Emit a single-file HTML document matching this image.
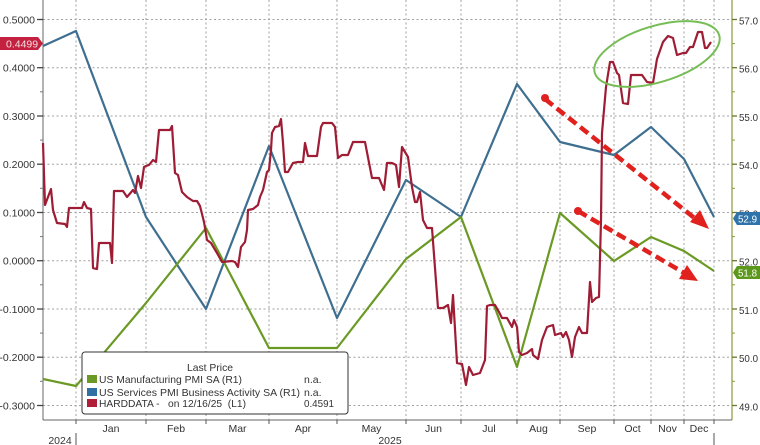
<!DOCTYPE html>
<html>
<head>
<meta charset="utf-8">
<style>
html,body{margin:0;padding:0;background:#fff;}
svg{display:block;}
text{font-family:"Liberation Sans",Arial,sans-serif;}
</style>
</head>
<body>
<svg width="760" height="445" viewBox="0 0 760 445" xmlns="http://www.w3.org/2000/svg">
<rect width="760" height="445" fill="#fff"/>
<!-- horizontal gridlines -->
<g stroke="#a0a0a0" stroke-width="1" stroke-dasharray="2 2.5" fill="none">
<line x1="43" y1="19.5" x2="732" y2="19.5"/>
<line x1="43" y1="67.7" x2="732" y2="67.7"/>
<line x1="43" y1="116" x2="732" y2="116"/>
<line x1="43" y1="164.2" x2="732" y2="164.2"/>
<line x1="43" y1="212.5" x2="732" y2="212.5"/>
<line x1="43" y1="260.7" x2="732" y2="260.7"/>
<line x1="43" y1="309" x2="732" y2="309"/>
<line x1="43" y1="357.2" x2="732" y2="357.2"/>
<line x1="43" y1="405.5" x2="732" y2="405.5"/>
</g>
<!-- vertical gridlines -->
<g stroke="#a0a0a0" stroke-width="1" stroke-dasharray="2 2.5" fill="none">
<line x1="76" y1="0" x2="76" y2="420"/>
<line x1="146" y1="0" x2="146" y2="420"/>
<line x1="206" y1="0" x2="206" y2="420"/>
<line x1="269" y1="0" x2="269" y2="420"/>
<line x1="337" y1="0" x2="337" y2="420"/>
<line x1="406" y1="0" x2="406" y2="420"/>
<line x1="461" y1="0" x2="461" y2="420"/>
<line x1="517" y1="0" x2="517" y2="420"/>
<line x1="560" y1="0" x2="560" y2="420"/>
<line x1="614" y1="0" x2="614" y2="420"/>
<line x1="651" y1="0" x2="651" y2="420"/>
<line x1="684" y1="0" x2="684" y2="420"/>
<line x1="714" y1="0" x2="714" y2="420"/>
</g>
<!-- axes -->
<line x1="43" y1="0" x2="43" y2="420" stroke="#666" stroke-width="1"/>
<line x1="732" y1="0" x2="732" y2="420" stroke="#8c9a3c" stroke-width="1.2"/>
<line x1="43" y1="420" x2="732" y2="420" stroke="#666" stroke-width="1"/>
<!-- left ticks -->
<g stroke="#444" stroke-width="1.3">
<line x1="37" y1="19.5" x2="43" y2="19.5"/>
<line x1="37" y1="67.7" x2="43" y2="67.7"/>
<line x1="37" y1="116" x2="43" y2="116"/>
<line x1="37" y1="164.2" x2="43" y2="164.2"/>
<line x1="37" y1="212.5" x2="43" y2="212.5"/>
<line x1="37" y1="260.7" x2="43" y2="260.7"/>
<line x1="37" y1="309" x2="43" y2="309"/>
<line x1="37" y1="357.2" x2="43" y2="357.2"/>
<line x1="37" y1="405.5" x2="43" y2="405.5"/>
</g>
<g stroke="#777" stroke-width="1">
<line x1="40" y1="43.6" x2="43" y2="43.6"/>
<line x1="40" y1="91.8" x2="43" y2="91.8"/>
<line x1="40" y1="140.1" x2="43" y2="140.1"/>
<line x1="40" y1="188.3" x2="43" y2="188.3"/>
<line x1="40" y1="236.6" x2="43" y2="236.6"/>
<line x1="40" y1="284.8" x2="43" y2="284.8"/>
<line x1="40" y1="333.1" x2="43" y2="333.1"/>
<line x1="40" y1="381.3" x2="43" y2="381.3"/>
</g>
<!-- right ticks -->
<g stroke="#667a2a" stroke-width="1.3">
<line x1="732" y1="19.5" x2="737" y2="19.5"/>
<line x1="732" y1="67.7" x2="737" y2="67.7"/>
<line x1="732" y1="116" x2="737" y2="116"/>
<line x1="732" y1="164.2" x2="737" y2="164.2"/>
<line x1="732" y1="212.5" x2="737" y2="212.5"/>
<line x1="732" y1="260.7" x2="737" y2="260.7"/>
<line x1="732" y1="309" x2="737" y2="309"/>
<line x1="732" y1="357.2" x2="737" y2="357.2"/>
<line x1="732" y1="405.5" x2="737" y2="405.5"/>
</g>
<g stroke="#8c9a3c" stroke-width="1">
<line x1="732" y1="43.6" x2="735" y2="43.6"/>
<line x1="732" y1="91.8" x2="735" y2="91.8"/>
<line x1="732" y1="140.1" x2="735" y2="140.1"/>
<line x1="732" y1="188.3" x2="735" y2="188.3"/>
<line x1="732" y1="236.6" x2="735" y2="236.6"/>
<line x1="732" y1="284.8" x2="735" y2="284.8"/>
<line x1="732" y1="333.1" x2="735" y2="333.1"/>
<line x1="732" y1="381.3" x2="735" y2="381.3"/>
</g>
<!-- bottom ticks -->
<g stroke="#555" stroke-width="1">
<line x1="76" y1="420" x2="76" y2="424"/>
<line x1="146" y1="420" x2="146" y2="424"/>
<line x1="206" y1="420" x2="206" y2="424"/>
<line x1="269" y1="420" x2="269" y2="424"/>
<line x1="337" y1="420" x2="337" y2="424"/>
<line x1="406" y1="420" x2="406" y2="424"/>
<line x1="461" y1="420" x2="461" y2="424"/>
<line x1="517" y1="420" x2="517" y2="424"/>
<line x1="560" y1="420" x2="560" y2="424"/>
<line x1="614" y1="420" x2="614" y2="424"/>
<line x1="651" y1="420" x2="651" y2="424"/>
<line x1="684" y1="420" x2="684" y2="424"/>
<line x1="714" y1="420" x2="714" y2="424"/>
<line x1="76" y1="433" x2="76" y2="445"/>
<line x1="714" y1="433" x2="714" y2="445"/>
</g>
<!-- left labels -->
<g font-size="10.5" fill="#333" text-anchor="end">
<text x="35" y="23.5">0.5000</text>
<text x="35" y="71.7">0.4000</text>
<text x="35" y="120">0.3000</text>
<text x="35" y="168.2">0.2000</text>
<text x="35" y="216.5">0.1000</text>
<text x="35" y="264.7">0.0000</text>
<text x="35" y="313">-0.1000</text>
<text x="35" y="361.2">-0.2000</text>
<text x="35" y="409.5">-0.3000</text>
</g>
<!-- right labels -->
<g font-size="10.5" fill="#333">
<text x="739" y="24.5" textLength="19" lengthAdjust="spacingAndGlyphs">57.0</text>
<text x="739" y="72.7" textLength="19" lengthAdjust="spacingAndGlyphs">56.0</text>
<text x="739" y="121" textLength="19" lengthAdjust="spacingAndGlyphs">55.0</text>
<text x="739" y="169.2" textLength="19" lengthAdjust="spacingAndGlyphs">54.0</text>
<text x="739" y="217.5" textLength="19" lengthAdjust="spacingAndGlyphs">53.0</text>
<text x="739" y="265.7" textLength="19" lengthAdjust="spacingAndGlyphs">52.0</text>
<text x="739" y="314" textLength="19" lengthAdjust="spacingAndGlyphs">51.0</text>
<text x="739" y="362.2" textLength="19" lengthAdjust="spacingAndGlyphs">50.0</text>
<text x="739" y="410.5" textLength="19" lengthAdjust="spacingAndGlyphs">49.0</text>
</g>
<!-- month labels -->
<g font-size="10.5" fill="#333" text-anchor="middle">
<text x="111" y="432">Jan</text>
<text x="176" y="432">Feb</text>
<text x="237.5" y="432">Mar</text>
<text x="303" y="432">Apr</text>
<text x="371.5" y="432">May</text>
<text x="433.5" y="432">Jun</text>
<text x="489" y="432">Jul</text>
<text x="538.5" y="432">Aug</text>
<text x="587" y="432">Sep</text>
<text x="632.5" y="432">Oct</text>
<text x="667.5" y="432">Nov</text>
<text x="699" y="432">Dec</text>
<text x="60" y="444">2024</text>
<text x="390" y="444">2025</text>
</g>
<!-- series -->
<polyline fill="none" stroke="#3f6f90" stroke-width="2.2" stroke-linejoin="round" points="43,46 76,31 146,217 206,309 269,146 337,318 406,180 461,217 517,84 560,142 614,155 651,127 684,159 714,217"/>
<polyline fill="none" stroke="#6a9a24" stroke-width="2.2" stroke-linejoin="round" points="43,379 76,386 146,303 206,228 269,348 337,348 406,259 461,217 517,367 560,213 614,261 651,237 684,251 714,271"/>
<polyline fill="none" stroke="#9e1d35" stroke-width="2.2" stroke-linejoin="round" points="43,143 45,205 51,189 53,210 57,223 65,224 67,227 69,208 82,208 84,202 87,208 91,209 93,268 97,269 99,243 110,243 112,263 114,191 123,191 127,197 133,190 135,193 138,176 141,188 144,167 146,166 149,165 153,160 156,162 159,130 170,130 172,126 175,173 178,175 182,192 187,197 193,201 197,201 200,206 204,222 207,240 211,243 217,253 222,262 232,261 235,262 238,267 241,247 245,242 247,230 248,210 253,209 258,205 260,197 263,190 267,172 269,170 271,150 272,133 275,127 279,126 281,119 283,143 285,172 288,172 293,163 298,162 303,162 305,143 308,156 317,156 321,127 323,123 332,123 335,127 338,158 342,155 348,155 353,142 365,142 372,178 379,178 384,190 387,163 392,163 396,165 399,187 402,147 408,157 412,187 415,202 417,202 420,192 423,220 427,228 432,228 438,308 443,308 448,305 451,323 453,295 457,363 462,364 466,385 469,367 473,375 480,373 485,360 487,306 490,305 495,305 499,312 502,318 507,318 512,327 514,320 517,327 519,352 522,355 527,353 532,349 533,355 538,359 542,340 547,327 553,325 555,335 561,333 563,337 566,332 569,340 572,357 575,337 579,327 582,333 587,333 590,282 592,302 596,298 599,297 601,220 602,133 606,87 610,62 613,62 617,73 619,75 623,103 628,104 631,75 642,75 647,82 653,83 657,59 663,42 668,36 673,38 677,55 683,53 686,53 690,47 693,47 698,32 702,32 705,48 707,48 711,42"/>
<!-- ellipse annotation -->
<ellipse cx="657" cy="54" rx="65" ry="28" transform="rotate(-17 657 54)" fill="none" stroke="#76bd55" stroke-width="2"/>
<!-- arrows -->
<g stroke="#e0211d" stroke-width="4.5" stroke-dasharray="10 5" fill="none">
<line x1="545" y1="99" x2="697" y2="220"/>
<line x1="578" y1="211" x2="686" y2="274"/>
</g>
<circle cx="545" cy="98" r="4" fill="#e0211d"/>
<circle cx="578" cy="211" r="4" fill="#e0211d"/>
<polygon points="709,229 690,222 700,210" fill="#e0211d"/>
<polygon points="698,281 679,279 687,265" fill="#e0211d"/>
<!-- value boxes -->
<polygon points="0,37 38,37 43,43.5 38,50 0,50" fill="#c3213f"/>
<text x="6" y="47.5" font-size="10.5" fill="#f6dfe3">0.4499</text>
<polygon points="733,218.5 737,212 760,212 760,225 737,225" fill="#2e73ab"/>
<text x="738" y="222.5" font-size="10.5" fill="#fff" textLength="19" lengthAdjust="spacingAndGlyphs">52.9</text>
<polygon points="733,272.5 737,266 760,266 760,279 737,279" fill="#5b981c"/>
<text x="738" y="276.5" font-size="10.5" fill="#fff" textLength="19" lengthAdjust="spacingAndGlyphs">51.8</text>
<!-- legend -->
<rect x="82" y="352" width="266" height="62" rx="3" ry="3" fill="#fff" stroke="#333" stroke-width="1"/>
<g font-size="10.5" fill="#333">
<text x="187" y="371" textLength="46" lengthAdjust="spacingAndGlyphs">Last Price</text>
<rect x="87" y="375" width="10" height="8" fill="#6a9a24"/>
<text x="99" y="383" textLength="143" lengthAdjust="spacingAndGlyphs">US Manufacturing PMI SA  (R1)</text>
<text x="304" y="383">n.a.</text>
<rect x="87" y="388" width="10" height="8" fill="#2f6fa3"/>
<text x="99" y="396" textLength="201" lengthAdjust="spacingAndGlyphs">US Services PMI Business Activity SA  (R1)</text>
<text x="304" y="396">n.a.</text>
<rect x="87" y="399" width="10" height="8" fill="#b01e38"/>
<text x="99" y="407" textLength="147" lengthAdjust="spacingAndGlyphs" xml:space="preserve">HARDDATA -   on 12/16/25  (L1)</text>
<text x="304" y="407" textLength="30" lengthAdjust="spacingAndGlyphs">0.4591</text>
</g>
</svg>
</body>
</html>
